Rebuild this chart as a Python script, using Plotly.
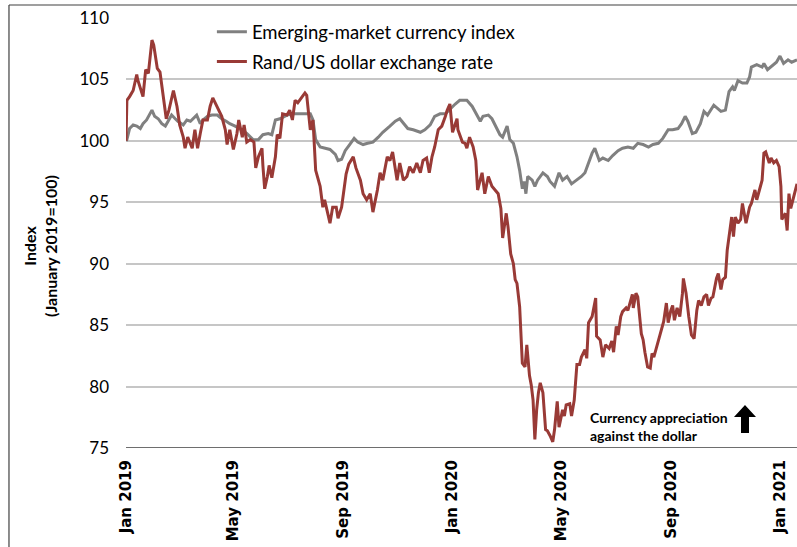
import pandas as pd
import plotly.graph_objects as go

START = pd.Timestamp("2019-01-01")

# Emerging-market currency index (days since 1 Jan 2019, index value)
em_day = [0, 1, 4, 8, 12, 16, 19, 23, 29, 32, 36, 40, 44, 47, 51, 55, 58, 64, 68, 72, 75, 79, 83, 86, 91, 96,
          102, 107, 112, 116, 122, 127, 135, 142, 148, 153, 159, 163, 167, 172, 180, 187, 194, 200, 206, 209,
          212, 217, 222, 228, 234, 237, 241, 245, 250, 255, 259, 265, 270, 276, 282, 287, 295, 301, 306, 312,
          315, 321, 329, 334, 340, 345, 351, 357, 362, 368, 373, 381, 387, 392, 396, 399, 405, 409, 415, 418,
          421, 426, 429, 433, 437, 440, 443, 445, 447, 449, 454, 457, 460, 466, 471, 474, 479, 484, 488, 493,
          498, 504, 509, 513, 516, 521, 524, 529, 533, 539, 544, 550, 555, 561, 567, 572, 578, 584, 589, 595,
          600, 606, 611, 617, 621, 625, 628, 633, 637, 642, 646, 650, 657, 662, 665, 670, 674, 678, 680, 684,
          689, 694, 697, 699, 705, 711, 713, 717, 723, 727, 731, 735, 740, 744, 750]
em_val = [100.0, 100.1, 101.0, 101.3, 101.2, 101.0, 101.4, 101.7, 102.5, 102.0, 101.8, 101.4, 101.2, 101.6,
          102.1, 101.8, 101.6, 101.3, 101.7, 101.6, 101.8, 102.1, 101.4, 101.7, 102.0, 102.1, 102.1, 101.8,
          101.6, 101.4, 101.2, 101.0, 100.6, 100.1, 100.1, 100.5, 100.6, 100.5, 101.7, 101.8, 102.1, 102.2,
          102.2, 102.2, 102.2, 101.7, 100.1, 99.5, 99.4, 99.3, 98.9, 98.4, 98.5, 99.2, 99.7, 100.2, 99.9,
          99.7, 99.8, 99.9, 100.3, 100.7, 101.2, 101.6, 101.8, 101.3, 101.0, 100.9, 100.7, 100.9, 101.3,
          102.0, 102.2, 102.2, 102.6, 103.0, 103.3, 103.3, 102.8, 102.1, 101.6, 102.0, 102.1, 101.8, 101.0,
          100.5, 100.3, 101.2, 100.1, 99.8, 98.7, 97.6, 96.1, 96.7, 95.7, 97.1, 96.8, 96.3, 96.8, 97.4, 97.1,
          96.7, 96.3, 97.4, 96.8, 97.1, 96.5, 96.8, 97.1, 97.4, 98.0, 99.0, 99.4, 98.4, 98.6, 98.4, 98.8,
          99.2, 99.4, 99.5, 99.4, 99.8, 99.7, 99.5, 99.7, 99.8, 100.2, 100.9, 100.9, 101.0, 101.4, 102.0,
          101.6, 100.6, 100.7, 101.4, 102.4, 102.1, 102.9, 102.6, 102.4, 102.5, 104.0, 104.4, 104.1, 104.9,
          104.7, 104.7, 105.2, 106.0, 106.2, 106.0, 106.3, 105.8, 106.2, 106.4, 106.9, 106.3, 106.6, 106.4,
          106.6]

# Rand/US dollar exchange rate (days since 1 Jan 2019, index value)
zar_day = [0, 1, 4, 8, 12, 13, 19, 22, 25, 29, 31, 35, 38, 41, 45, 48, 53, 57, 60, 64, 66, 69, 74, 77, 80, 83,
           86, 91, 94, 97, 102, 104, 107, 111, 113, 116, 120, 124, 126, 130, 132, 135, 139, 143, 145, 148, 152,
           153, 155, 158, 160, 163, 167, 169, 172, 175, 180, 183, 186, 189, 192, 197, 200, 202, 206, 209, 212,
           217, 220, 222, 225, 228, 231, 235, 237, 241, 246, 249, 254, 257, 262, 265, 269, 273, 276, 281, 284,
           287, 292, 295, 298, 303, 306, 310, 314, 317, 321, 325, 329, 332, 336, 339, 342, 345, 349, 353, 357,
           359, 362, 365, 370, 371, 376, 379, 381, 384, 388, 391, 393, 398, 401, 405, 409, 412, 416, 419, 421,
           425, 427, 430, 433, 435, 437, 440, 443, 446, 448, 451, 453, 455, 457, 459, 461, 463, 466, 469, 471,
           474, 477, 479, 482, 484, 488, 490, 492, 496, 498, 501, 504, 507, 509, 513, 515, 517, 521, 525, 526,
           530, 533, 536, 540, 543, 545, 548, 550, 553, 555, 559, 561, 566, 567, 570, 572, 576, 578, 580, 583,
           586, 588, 590, 593, 596, 599, 601, 604, 606, 609, 611, 613, 616, 619, 622, 623, 626, 629, 632, 635,
           638, 640, 643, 646, 649, 651, 654, 656, 660, 662, 665, 667, 670, 672, 674, 677, 679, 681, 684, 687,
           689, 691, 693, 697, 699, 703, 705, 708, 711, 713, 715, 719, 721, 724, 727, 730, 732, 733, 737, 739,
           741, 743, 750]
zar_val = [100.0, 103.3, 103.6, 104.1, 105.4, 105.0, 103.6, 105.8, 105.5, 108.2, 107.8, 105.9, 105.6, 104.1,
           101.8, 102.5, 104.1, 102.8, 101.3, 100.3, 99.4, 100.3, 99.4, 100.9, 99.4, 100.6, 101.7, 101.7,
           102.8, 103.5, 102.8, 102.4, 102.0, 100.9, 99.7, 100.9, 99.3, 100.6, 101.7, 100.3, 101.3, 99.9,
           100.1, 99.9, 97.8, 98.7, 99.4, 98.0, 96.1, 97.1, 98.0, 97.0, 98.7, 100.5, 100.2, 102.2, 102.1,
           102.5, 101.7, 103.3, 103.1, 103.6, 103.9, 103.7, 100.9, 101.7, 97.6, 96.3, 94.6, 95.2, 94.1, 93.3,
           94.6, 94.6, 93.7, 94.6, 97.3, 98.1, 98.7, 97.8, 96.8, 95.7, 95.2, 95.7, 94.2, 96.0, 97.4, 96.8,
           98.7, 98.4, 99.1, 96.8, 98.2, 96.8, 97.1, 97.9, 97.4, 98.2, 97.4, 98.4, 98.6, 97.4, 98.7, 99.5,
           100.9, 101.2, 102.0, 102.5, 103.0, 100.7, 101.8, 100.9, 99.9, 99.8, 99.4, 100.3, 99.5, 98.4, 96.0,
           97.4, 95.7, 97.1, 96.3, 96.0, 95.7, 94.5, 92.1, 94.1, 93.0, 90.8, 90.0, 88.7, 88.4, 86.5, 81.9,
           81.6, 83.4, 80.9, 80.1, 78.9, 75.7, 78.1, 79.5, 80.3, 79.5, 76.5, 76.4, 76.0, 75.5, 76.5, 78.8,
           76.7, 78.1, 77.6, 78.5, 78.6, 77.6, 78.9, 81.8, 81.8, 82.4, 83.0, 82.3, 85.2, 85.7, 87.2, 84.1,
           83.8, 82.4, 83.4, 83.1, 83.7, 82.8, 84.9, 84.2, 85.7, 86.1, 86.4, 86.2, 87.5, 86.4, 87.6, 87.3,
           84.3, 83.8, 82.8, 81.6, 81.5, 82.7, 82.4, 83.2, 83.9, 84.9, 85.3, 86.8, 85.2, 86.2, 86.6, 85.4,
           86.4, 85.7, 87.6, 88.8, 87.6, 85.7, 84.2, 83.9, 86.2, 87.0, 86.6, 87.3, 87.5, 86.6, 87.2, 87.3,
           88.8, 89.2, 87.9, 88.7, 88.9, 91.1, 92.2, 93.8, 92.2, 93.8, 93.3, 93.6, 94.9, 94.1, 93.3, 94.6,
           94.9, 96.0, 95.2, 96.0, 96.8, 99.0, 99.1, 98.2, 98.6, 98.2, 98.4, 97.9, 96.3, 93.6, 94.1, 92.7,
           95.7, 94.5, 96.5]

tick_dates = ["2019-01-01", "2019-05-01", "2019-09-01", "2020-01-01", "2020-05-01", "2020-09-01", "2021-01-01"]
tick_text = ["Jan 2019", "May 2019", "Sep 2019", "Jan 2020", "May 2020", "Sep 2020", "Jan 2021"]
y_ticks = [75, 80, 85, 90, 95, 100, 105, 110]

em_dates = START + pd.to_timedelta(em_day, unit="D")
zar_dates = START + pd.to_timedelta(zar_day, unit="D")

fig = go.Figure()
fig.add_trace(go.Scatter(x=em_dates, y=em_val, mode="lines", name="Emerging-market currency index",
                         line=dict(color="#808080", width=3), legend="legend"))
fig.add_trace(go.Scatter(x=zar_dates, y=zar_val, mode="lines", name="Rand/US dollar exchange rate",
                         line=dict(color="#993a36", width=3), legend="legend2"))

legend_font = dict(family="Lato", size=18.5, color="#000000")
fig.update_layout(
    width=797, height=547,
    margin=dict(l=126, r=0, t=18, b=99, autoexpand=False),
    paper_bgcolor="white", plot_bgcolor="white",
    font=dict(family="Lato", color="#000000"),
    showlegend=True,
    legend=dict(x=0.128, y=0.967, xanchor="left", yanchor="middle", bgcolor="rgba(0,0,0,0)",
                font=legend_font, itemwidth=30),
    legend2=dict(x=0.128, y=0.898, xanchor="left", yanchor="middle", bgcolor="rgba(0,0,0,0)",
                 font=legend_font, itemwidth=30),
    xaxis=dict(range=[START, START + pd.Timedelta(days=750)], tickvals=tick_dates, ticktext=tick_text,
               tickangle=-90, tickfont=dict(family="DejaVu Sans", size=15, color="#000000", weight="bold"),
               showgrid=False, showline=False, zeroline=False, ticks="", ticklabelstandoff=8),
    yaxis=dict(range=[75, 110], tickvals=y_ticks, showgrid=True, gridcolor="#c6c6c6", gridwidth=1.5,
               zeroline=False, showline=False, ticks="", ticklabelstandoff=16,
               tickfont=dict(family="Lato", size=17, color="#000000")),
)

# y-axis title
fig.add_annotation(xref="paper", yref="paper", x=-0.1282, y=0.47, xanchor="center", yanchor="middle",
                   text="<b>Index<br>(January 2019=100)</b>", textangle=-90, showarrow=False,
                   font=dict(family="Lato", size=16, color="#000000", weight="bold"))

# x-axis baseline at 75
fig.add_shape(type="line", xref="paper", yref="y", x0=0, x1=1, y0=75, y1=75,
              line=dict(color="#6e6e6e", width=2))

# outer frame lines (chart box of the original page)
fig.add_shape(type="line", xref="paper", yref="paper", x0=-0.1744, x1=-0.1744, y0=-0.3, y1=1.0302,
              line=dict(color="#404040", width=1.2))
fig.add_shape(type="line", xref="paper", yref="paper", x0=-0.1744, x1=1.0, y0=1.0302, y1=1.0302,
              line=dict(color="#404040", width=1.2))

fig.add_annotation(xref="paper", yref="paper", x=0.6885, y=0.051, xanchor="left", yanchor="middle",
                   text="<b>Currency appreciation<br>against the dollar</b>", showarrow=False, align="left",
                   font=dict(family="Lato", size=14, color="#000000"))

# upward arrow
fig.add_shape(type="path", xref="paper", yref="paper", xsizemode="pixel", ysizemode="pixel",
              xanchor=0.9225, yanchor=0.0674,
              path="M 0 14 L 11 2 L 4 2 L 4 -14 L -4 -14 L -4 2 L -11 2 Z",
              fillcolor="#000000", line=dict(color="#000000", width=0))

fig.write_html("out.html", config={"displayModeBar": False},
               post_script="document.body.style.margin='0';")
